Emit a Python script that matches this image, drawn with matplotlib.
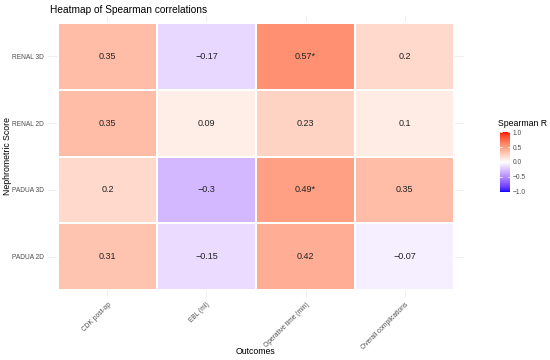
import numpy as np
import matplotlib
matplotlib.use("Agg")
import matplotlib.pyplot as plt
from matplotlib.colors import ListedColormap, Normalize

plt.rcParams['font.family'] = ['Liberation Sans', 'DejaVu Sans']

outcomes = ["CDK post-op", "EBL (ml)", "Operative time (min)", "Overall complications"]
scores = ["RENAL 3D", "RENAL 2D", "PADUA 3D", "PADUA 2D"]  # top to bottom
rho = [
    [0.35, -0.17, 0.57, 0.2],
    [0.35, 0.09, 0.23, 0.1],
    [0.2, -0.3, 0.49, 0.35],
    [0.31, -0.15, 0.42, -0.07],
]
labels = [
    ["0.35", "\u22120.17", "0.57*", "0.2"],
    ["0.35", "0.09", "0.23", "0.1"],
    ["0.2", "\u22120.3", "0.49*", "0.35"],
    ["0.31", "\u22120.15", "0.42", "\u22120.07"],
]
cbar_ticks = [1.0, 0.5, 0.0, -0.5, -1.0]

# --- Lab-interpolated diverging palette (blue - white - red) ---
def srgb_to_lab(rgb):
    rgb = np.asarray(rgb, float)
    lin = np.where(rgb <= 0.04045, rgb / 12.92, ((rgb + 0.055) / 1.055) ** 2.4)
    M = np.array([[0.4124, 0.3576, 0.1805],
                  [0.2126, 0.7152, 0.0722],
                  [0.0193, 0.1192, 0.9505]])
    xyz = M @ lin
    wp = np.array([0.95047, 1.0, 1.08883])
    t = xyz / wp
    f = np.where(t > (6 / 29) ** 3, np.cbrt(t), t / (3 * (6 / 29) ** 2) + 4 / 29)
    return np.array([116 * f[1] - 16, 500 * (f[0] - f[1]), 200 * (f[1] - f[2])])

def lab_to_srgb(lab):
    L, a, b = lab
    fy = (L + 16) / 116
    fx = fy + a / 500
    fz = fy - b / 200
    def finv(f):
        return f ** 3 if f > 6 / 29 else 3 * (6 / 29) ** 2 * (f - 4 / 29)
    wp = np.array([0.95047, 1.0, 1.08883])
    xyz = wp * np.array([finv(fx), finv(fy), finv(fz)])
    Minv = np.array([[3.2406, -1.5372, -0.4986],
                     [-0.9689, 1.8758, 0.0415],
                     [0.0557, -0.2040, 1.0570]])
    lin = Minv @ xyz
    lin = np.clip(lin, 0, 1)
    rgb = np.where(lin <= 0.0031308, 12.92 * lin, 1.055 * lin ** (1 / 2.4) - 0.055)
    return np.clip(rgb, 0, 1)

lab_blue = srgb_to_lab([0, 0, 1])
lab_white = srgb_to_lab([1, 1, 1])
lab_red = srgb_to_lab([1, 0, 0])
cols = []
for v in np.linspace(-1, 1, 256):
    if v < 0:
        t = -v
        lab = lab_white + (lab_blue - lab_white) * t
    else:
        lab = lab_white + (lab_red - lab_white) * v
    cols.append(lab_to_srgb(lab))
cmap = ListedColormap(cols)
norm = Normalize(-1, 1)

fig = plt.figure(figsize=(5.5, 3.6), dpi=100)
ax = fig.add_axes([48 / 550, 1 - 297 / 360, 416 / 550, 281 / 360])

nr = len(scores)
nc = len(outcomes)
data = np.array(rho)[::-1]  # bottom row first
# grid lines
for i in range(nc):
    ax.axvline(i, color="#EBEBEB", lw=0.6, zorder=0)
for j in range(nr):
    ax.axhline(j, color="#EBEBEB", lw=0.6, zorder=0)

ax.pcolormesh(np.arange(nc + 1) - 0.5, np.arange(nr + 1) - 0.5, data,
              cmap=cmap, norm=norm, edgecolors="white", linewidth=0.12, zorder=1)
for r in range(nr):
    for c in range(nc):
        ax.text(c, nr - 1 - r, labels[r][c], ha="center", va="center",
                fontsize=6.5, color="#222222", zorder=3)

ax.set_xlim(-0.6, nc - 0.4)
ax.set_ylim(-0.6, nr - 0.4)
ax.set_xticks(range(nc))
ax.set_xticklabels(outcomes, rotation=45, ha="right", va="top",
                   rotation_mode="anchor", fontsize=4.8, color="#4D4D4D")
ax.set_yticks(range(nr))
ax.set_yticklabels(scores[::-1], fontsize=4.8, color="#4D4D4D")
ax.tick_params(length=0, pad=3)
for s in ax.spines.values():
    s.set_visible(False)
fig.text(256 / 550, 1 - 352 / 360, "Outcomes", fontsize=6.3, ha="center",
         va="center", color="black")
fig.text(8 / 550, 1 - 156 / 360, "Nephrometric Score", fontsize=6.3, ha="center",
         va="center", rotation=90, color="black")
fig.text(50 / 550, 1 - 10 / 360, "Heatmap of Spearman correlations",
         fontsize=7.3, ha="left", va="center", color="black")

# colorbar
cax = fig.add_axes([500 / 550, 1 - 193 / 360, 10 / 550, 62 / 360])
grad = np.linspace(-1, 1, 256).reshape(-1, 1)
cax.imshow(grad, cmap=cmap, norm=norm, aspect="auto", origin="lower",
           extent=[0, 1, -1, 1])
cax.set_xlim(0, 1)
cax.set_ylim(-1.05, 1.05)
cax.set_xticks([])
cax.yaxis.tick_right()
cax.set_yticks(cbar_ticks)
cax.set_yticklabels([("\u2212" if t < 0 else "") + f"{abs(t):.1f}" for t in cbar_ticks],
                    fontsize=4.8, color="#4D4D4D")
cax.tick_params(length=0, pad=2)
for t in cbar_ticks:
    cax.plot([0, 0.2], [t, t], color="white", lw=0.5)
    cax.plot([0.8, 1], [t, t], color="white", lw=0.5)
for s in cax.spines.values():
    s.set_visible(False)
fig.text(498 / 550, 1 - 123 / 360, "Spearman R", fontsize=6.3, ha="left",
         va="center", color="black")

fig.savefig("out.png", dpi=100, facecolor="white")
